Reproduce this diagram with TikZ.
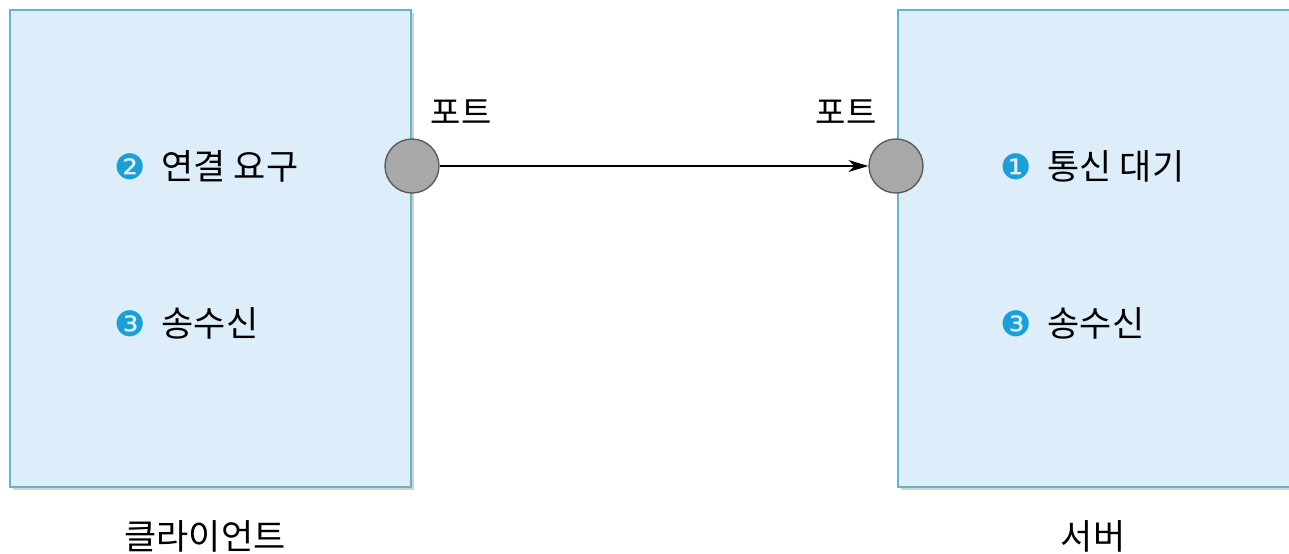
\documentclass[tikz,border=0pt]{standalone}
\usepackage{fontspec}
\setmainfont{Noto Sans CJK KR}
\newfontfamily\dejavu{DejaVu Sans}
\usetikzlibrary{arrows.meta,shadows}

\definecolor{boxfill}{HTML}{DDEEFA}
\definecolor{boxline}{HTML}{62B6C6}
\definecolor{portfill}{HTML}{A8A8A8}
\definecolor{portline}{HTML}{5C5C5C}
\definecolor{numblue}{HTML}{1A9FD9}

\newcommand{\badge}[1]{{\dejavu\fontsize{17.5pt}{17.5pt}\selectfont\color{numblue}#1}\hspace{8pt}}

\tikzset{
  hostbox/.style={fill=boxfill, draw=boxline, line width=0.6pt,
    drop shadow={shadow xshift=1.5pt, shadow yshift=-1.5pt, opacity=0.35}},
  port/.style={circle, fill=portfill, draw=portline, line width=0.7pt,
    minimum size=27pt, inner sep=0pt},
  steplabel/.style={anchor=west, inner sep=0pt, font=\fontsize{17.5pt}{19pt}\selectfont},
  portlabel/.style={inner sep=0pt, font=\fontsize{16.5pt}{18pt}\selectfont},
  hostlabel/.style={inner sep=0pt, font=\fontsize{17.5pt}{19pt}\selectfont}
}

\begin{document}
\begin{tikzpicture}[x=0.5pt, y=-0.5pt]
    \useasboundingbox (0,0) rectangle (1289,553);
    % client and server
    \draw[hostbox] (10,10) rectangle (411,487);
    \draw[hostbox] (898,10) rectangle (1310,487);
    % ports
    \node[port] (lport) at (412,166) {};
    \node[port] (rport) at (896,166) {};
    \node[portlabel] (ltag) at (461,112) {포트};
    \node[portlabel] (rtag) at (846,112) {포트};
    \draw[line width=0.75pt, -{Stealth[length=10pt, width=6pt, inset=3pt]}] (lport) -- (rport);
    % steps
    \node[steplabel] (creq) at (114,166) {\badge{❷}연결 요구};
    \node[steplabel] (ctx) at (114,323) {\badge{❸}송수신};
    \node[steplabel] (swait) at (1000,166) {\badge{❶}통신 대기};
    \node[steplabel] (stx) at (1000,323) {\badge{❸}송수신};
    % names
    \node[hostlabel] (cname) at (205,536) {클라이언트};
    \node[hostlabel] (sname) at (1093,536) {서버};
\end{tikzpicture}
\end{document}
